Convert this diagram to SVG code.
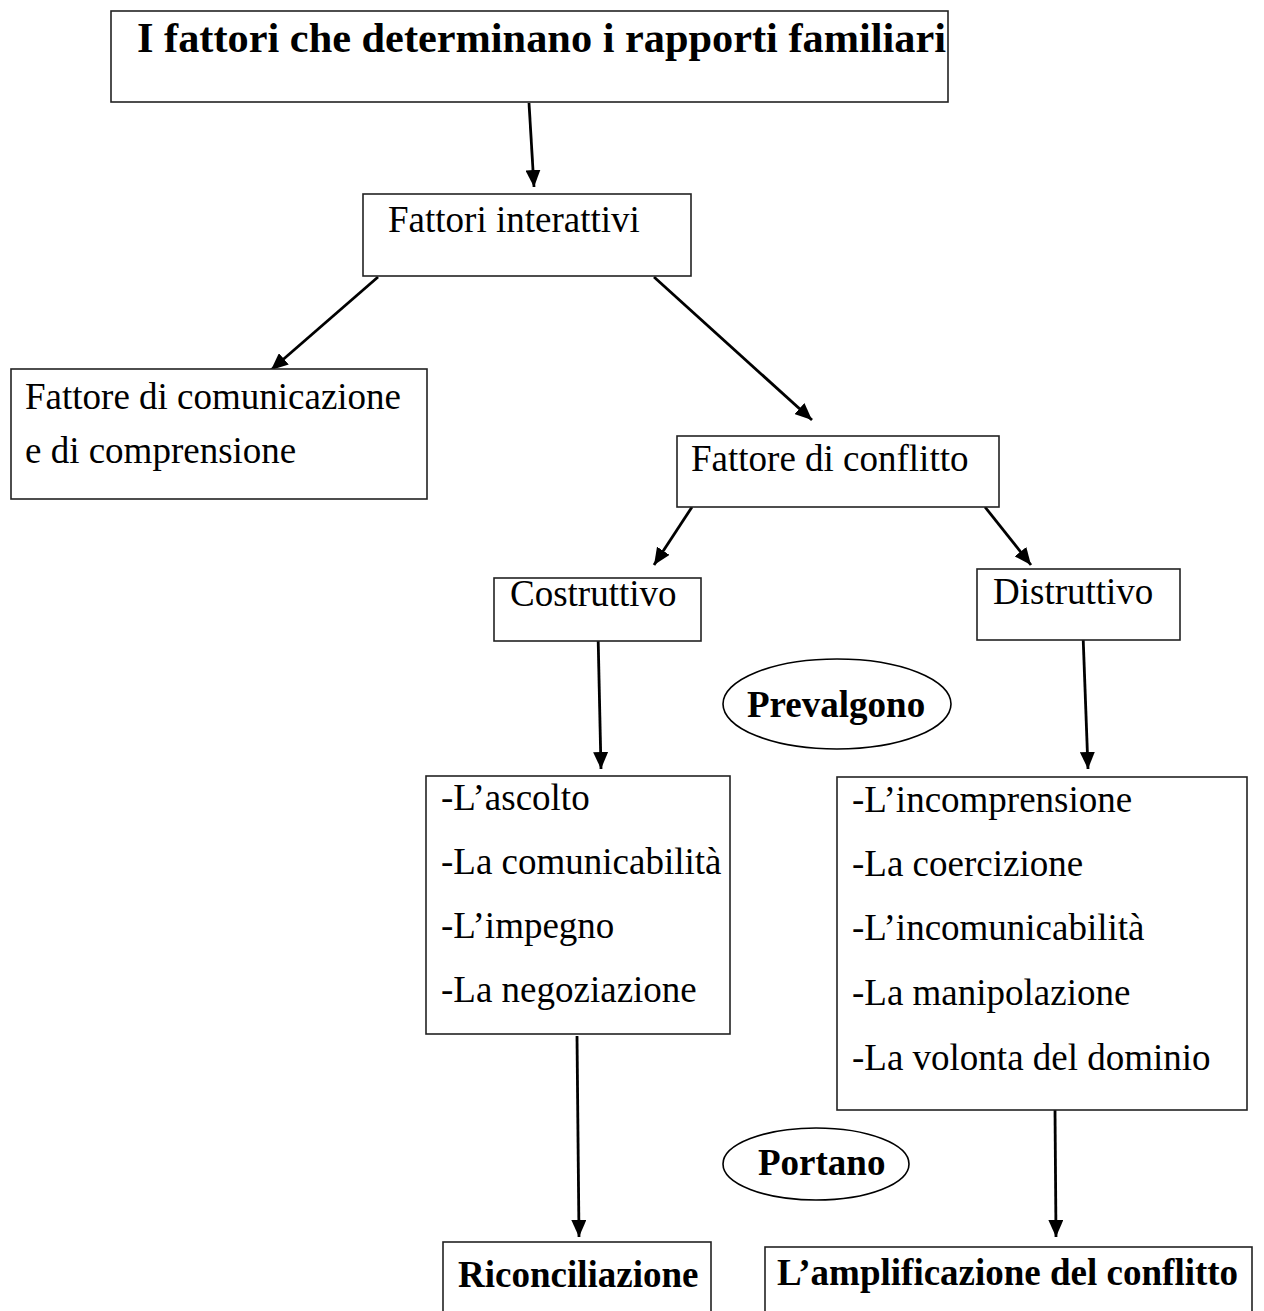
<svg xmlns="http://www.w3.org/2000/svg" width="1264" height="1311" viewBox="0 0 1264 1311">
<style>
  .box { fill: #ffffff; stroke: #222222; stroke-width: 1.6; }
  .ell { fill: #ffffff; stroke: #000000; stroke-width: 1.6; }
  .t { font-family: "Liberation Serif", "Times New Roman", serif; font-size: 37px; fill: #000000; }
  .b { font-family: "Liberation Serif", "Times New Roman", serif; font-size: 37px; font-weight: bold; fill: #000000; }
  .title { font-family: "Liberation Serif", "Times New Roman", serif; font-size: 42px; font-weight: bold; fill: #000000; }
  .conn line { stroke: #000000; stroke-width: 2.8; marker-end: url(#ah); }
</style>
<defs>
  <marker id="ah" viewBox="0 0 17 15" refX="17" refY="7.5" markerWidth="17" markerHeight="15" markerUnits="userSpaceOnUse" orient="auto">
    <path d="M0,0 L17,7.5 L0,15 z" fill="#000000"/>
  </marker>
</defs>
<rect width="1264" height="1311" fill="#ffffff"/>

<g id="connectors" class="conn">
  <line x1="529" y1="103" x2="534" y2="187"/>
  <line x1="378" y1="277" x2="271" y2="370"/>
  <line x1="654" y1="277" x2="812" y2="420"/>
  <line x1="692" y1="507" x2="654" y2="565"/>
  <line x1="985" y1="507" x2="1031" y2="565"/>
  <line x1="598" y1="632" x2="601" y2="769"/>
  <line x1="1083" y1="634" x2="1088" y2="769"/>
  <line x1="577" y1="1036" x2="579" y2="1237"/>
  <line x1="1055" y1="1110" x2="1056" y2="1237"/>
</g>

<g id="title">
  <rect class="box" x="111" y="11" width="837" height="91"/>
  <text class="title" x="137" y="52" textLength="809" lengthAdjust="spacingAndGlyphs">I fattori che determinano i rapporti familiari</text>
</g>

<g id="fattori-interattivi">
  <rect class="box" x="363" y="194" width="328" height="82"/>
  <text class="t" x="388" y="232">Fattori interattivi</text>
</g>

<g id="fattore-comunicazione">
  <rect class="box" x="11" y="369" width="416" height="130"/>
  <text class="t" x="25" y="409">Fattore di comunicazione</text>
  <text class="t" x="25" y="463">e di comprensione</text>
</g>

<g id="fattore-conflitto">
  <rect class="box" x="677" y="436" width="322" height="71"/>
  <text class="t" x="691" y="471">Fattore di conflitto</text>
</g>

<g id="costruttivo">
  <rect class="box" x="494" y="578" width="207" height="63"/>
  <text class="t" x="510" y="606">Costruttivo</text>
</g>

<g id="distruttivo">
  <rect class="box" x="977" y="569" width="203" height="71"/>
  <text class="t" x="993" y="604">Distruttivo</text>
</g>

<g id="prevalgono">
  <ellipse class="ell" cx="837" cy="704" rx="114" ry="45"/>
  <text class="b" x="747" y="717">Prevalgono</text>
</g>

<g id="lista-costruttivo">
  <rect class="box" x="426" y="776" width="304" height="258"/>
  <text class="t" x="441" y="810">-L’ascolto</text>
  <text class="t" x="441" y="874">-La comunicabilità</text>
  <text class="t" x="441" y="938">-L’impegno</text>
  <text class="t" x="441" y="1002">-La negoziazione</text>
</g>

<g id="lista-distruttivo">
  <rect class="box" x="837" y="777" width="410" height="333"/>
  <text class="t" x="852" y="812">-L’incomprensione</text>
  <text class="t" x="852" y="876">-La coercizione</text>
  <text class="t" x="852" y="940">-L’incomunicabilità</text>
  <text class="t" x="852" y="1005">-La manipolazione</text>
  <text class="t" x="852" y="1070">-La volonta del dominio</text>
</g>

<g id="portano">
  <ellipse class="ell" cx="816" cy="1164" rx="93" ry="36"/>
  <text class="b" x="758" y="1175">Portano</text>
</g>

<g id="riconciliazione">
  <rect class="box" x="443" y="1242" width="268" height="90"/>
  <text class="b" x="458" y="1287">Riconciliazione</text>
</g>

<g id="amplificazione">
  <rect class="box" x="765" y="1247" width="487" height="90"/>
  <text class="b" x="777" y="1285">L’amplificazione del conflitto</text>
</g>
</svg>
